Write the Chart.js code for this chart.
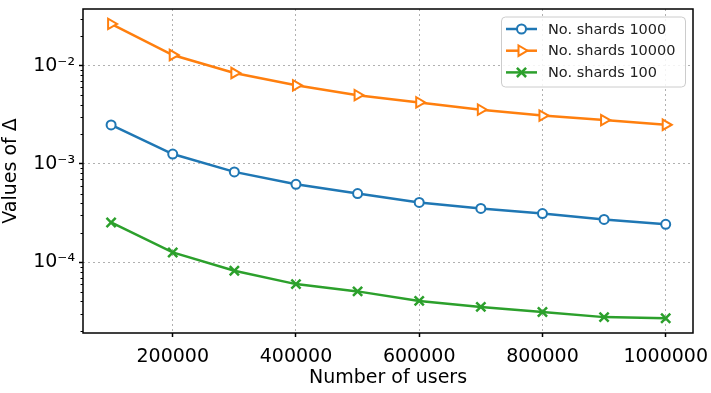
<!DOCTYPE html>
<html>
<head>
<meta charset="utf-8">
<script src="https://cdn.jsdelivr.net/npm/chart.js@4.4.1/dist/chart.umd.min.js"></script>
<style>
    body { margin: 0; background: #fff; }
</style>
</head>
<body>
<canvas id="myChart" width="711" height="393"></canvas>
<script>
const users = [100000, 200000, 300000, 400000, 500000, 600000, 700000, 800000, 900000, 1000000];
const shards1000 = [0.00249, 0.00126, 0.00083, 0.00062, 0.00050, 0.000406, 0.000353, 0.000313, 0.000273, 0.000243];
const shards10000 = [0.0265, 0.0128, 0.0084, 0.0063, 0.0050, 0.00422, 0.00356, 0.0031, 0.00279, 0.0025];
const shards100 = [0.000254, 0.000126, 0.000082, 0.000060, 0.0000506, 0.0000405, 0.0000352, 0.0000312, 0.0000277, 0.000027];
const seriesLabels = ['No. shards 1000', 'No. shards 10000', 'No. shards 100'];
const xTicks = [200000, 400000, 600000, 800000, 1000000];
const yTicks = [1e-4, 1e-3, 1e-2];
const yTickLabels = ['10⁻⁴', '10⁻³', '10⁻²'];

const FONT = 'DejaVu Sans';

function toPoints(values) {
    return users.map((u, i) => ({ x: u, y: values[i] }));
}

// black frame round the plot + minor ticks on the log axis
const framePlugin = {
    id: 'frame',
    afterDraw(chart) {
        const ctx = chart.ctx;
        const a = chart.chartArea;
        const yScale = chart.scales.y;
        ctx.save();
        ctx.strokeStyle = '#000';
        ctx.lineWidth = 1;
        for (let e = -6; e <= -1; e++) {
            for (let m = 2; m <= 9; m++) {
                const v = m * Math.pow(10, e);
                if (v < yScale.min || v > yScale.max) continue;
                const py = Math.round(yScale.getPixelForValue(v)) + 0.5;
                ctx.beginPath();
                ctx.moveTo(a.left - 2.5, py);
                ctx.lineTo(a.left, py);
                ctx.stroke();
            }
        }
        ctx.lineWidth = 1.5;
        ctx.strokeRect(a.left, a.top, a.right - a.left, a.bottom - a.top);
        ctx.restore();
    }
};

// matplotlib style legend: line segment with marker in the middle
const boxLegendPlugin = {
    id: 'boxLegend',
    afterDraw(chart) {
        const ctx = chart.ctx;
        const a = chart.chartArea;
        const boxW = 184, boxH = 70;
        const boxX = a.right - 8 - boxW;
        const boxY = a.top + 7.5;
        ctx.save();
        ctx.fillStyle = 'rgba(255,255,255,0.85)';
        ctx.strokeStyle = '#cccccc';
        ctx.lineWidth = 1;
        ctx.beginPath();
        ctx.roundRect(boxX + 0.5, boxY + 0.5, boxW, boxH, 4);
        ctx.fill();
        ctx.stroke();

        chart.data.datasets.forEach((ds, i) => {
            const y = boxY + 12.5 + i * 21.7;
            const x0 = boxX + 5, x1 = boxX + 36;
            ctx.strokeStyle = ds.borderColor;
            ctx.lineWidth = ds.borderWidth;
            ctx.beginPath();
            ctx.moveTo(x0, y);
            ctx.lineTo(x1, y);
            ctx.stroke();

            ctx.fillStyle = ds.pointBackgroundColor;
            ctx.strokeStyle = ds.borderColor;
            ctx.lineWidth = ds.pointBorderWidth;
            Chart.helpers.drawPoint(ctx, {
                pointStyle: ds.pointStyle,
                rotation: ds.pointRotation || 0,
                radius: ds.pointRadius,
                borderWidth: ds.pointBorderWidth
            }, (x0 + x1) / 2, y);

            ctx.fillStyle = '#222';
            ctx.font = '14.5px "' + FONT + '"';
            ctx.textBaseline = 'middle';
            ctx.textAlign = 'left';
            ctx.fillText(ds.label, boxX + 47, y + 1);
        });
        ctx.restore();
    }
};

let ctx = document.getElementById('myChart').getContext('2d');
new Chart(ctx, {
    type: 'line',
    data: {
        datasets: [
            {
                label: seriesLabels[0],
                data: toPoints(shards1000),
                borderColor: '#1f77b4',
                borderWidth: 2.5,
                pointStyle: 'circle',
                pointRadius: 4.5,
                pointBorderWidth: 2,
                pointBackgroundColor: '#ffffff',
                pointBorderColor: '#1f77b4'
            }, {
                label: seriesLabels[1],
                data: toPoints(shards10000),
                borderColor: '#ff7f0e',
                borderWidth: 2.5,
                pointStyle: 'triangle',
                pointRotation: 90,
                pointRadius: 6,
                pointBorderWidth: 2,
                pointBackgroundColor: '#ffffff',
                pointBorderColor: '#ff7f0e'
            }, {
                label: seriesLabels[2],
                data: toPoints(shards100),
                borderColor: '#2ca02c',
                borderWidth: 2.5,
                pointStyle: 'crossRot',
                pointRadius: 6.5,
                pointBorderWidth: 2.5,
                pointBackgroundColor: '#2ca02c',
                pointBorderColor: '#2ca02c'
            }
        ]
    },
    options: {
        responsive: false,
        animation: false,
        layout: { padding: { left: 0, right: 18, top: 1.3, bottom: 0 } },
        plugins: {
            legend: { display: false },
            tooltip: { enabled: false }
        },
        scales: {
            x: {
                type: 'linear',
                min: 54400,
                max: 1044300,
                afterBuildTicks: (s) => { s.ticks = xTicks.map(v => ({ value: v })); },
                afterFit: (s) => {
                    s.height = 60;
                    s.paddingLeft = 0;
                    s.paddingRight = 0;
                },
                grid: { color: '#b0b0b0', lineWidth: 1, tickColor: '#000', tickLength: 4, tickWidth: 1.5 },
                border: { display: false, dash: [2, 3] },
                ticks: {
                    color: '#000',
                    font: { family: FONT, size: 19 },
                    padding: 9,
                    maxRotation: 0,
                    autoSkip: false,
                    callback: (v) => String(v)
                },
                title: {
                    display: true,
                    text: 'Number of users',
                    color: '#000',
                    font: { family: FONT, size: 19 },
                    padding: { top: 0, bottom: 4 }
                }
            },
            y: {
                type: 'logarithmic',
                min: 1.91e-5,
                max: 0.0376,
                afterBuildTicks: (s) => { s.ticks = yTicks.map(v => ({ value: v })); },
                afterFit: (s) => {
                    s.width = 83;
                    s.paddingTop = 0;
                    s.paddingBottom = 0;
                },
                grid: { color: '#b0b0b0', lineWidth: 1, tickColor: '#000', tickLength: 4, tickWidth: 1.5 },
                border: { display: false, dash: [2, 3] },
                ticks: {
                    color: '#000',
                    font: { family: FONT, size: 19 },
                    padding: 4,
                    autoSkip: false,
                    callback: (v) => {
                        let i = yTicks.indexOf(v);
                        return i >= 0 ? yTickLabels[i] : '';
                    }
                },
                title: {
                    display: true,
                    text: 'Values of Δ',
                    color: '#000',
                    font: { family: FONT, size: 19 },
                    padding: { top: 0, bottom: 0 }
                }
            }
        }
    },
    plugins: [framePlugin, boxLegendPlugin]
});
</script>
</body>
</html>
